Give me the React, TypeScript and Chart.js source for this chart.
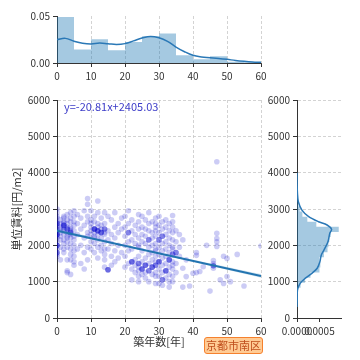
import React, { useEffect, useRef } from 'react';
import { Chart, registerables } from 'chart.js';

Chart.register(...registerables);

const FONT = '"Noto Sans CJK JP", "Noto Sans", sans-serif';
const TEXT = '#333333';
const AXIS = '#333333';
const GRID = '#c8c8c8';
const KDE = '#2a78b6';
const HIST = 'rgba(31,119,180,0.4)';

// ---- tick labels ----
const ageTicks = [0, 10, 20, 30, 40, 50, 60];
const rentTicks = [0, 1000, 2000, 3000, 4000, 5000, 6000];
const ageDensityTicks = [0, 0.05];
const rentDensityTicks = [0, 0.0005];

// ---- top marginal: building age distribution ----
const ageBinEdges = [0, 5, 10, 15, 20, 25, 30, 35, 40, 45, 50, 55, 60];
const ageBinDensity = [0.049, 0.0143, 0.0252, 0.0135, 0.0223, 0.0284, 0.0313, 0.0082, 0.0039, 0.0071, 0.0012, 0.0007];
const ageKdeAge = [0, 2.5, 5, 7.5, 10, 12.5, 15, 17.5, 20, 22.5, 25, 27.5, 30, 32.5, 35, 37.5, 40, 42.5, 45, 47.5, 50, 52.5, 55, 57.5, 60];
const ageKdeDensity = [0.025, 0.0262, 0.0232, 0.021, 0.0202, 0.0212, 0.0205, 0.0197, 0.0206, 0.0235, 0.0265, 0.0283, 0.0268, 0.023, 0.017, 0.012, 0.0082, 0.0065, 0.0057, 0.0049, 0.0039, 0.0027, 0.0018, 0.0011, 0.0007];

// ---- right marginal: unit rent distribution ----
const rentBinEdges = [690, 830, 970, 1110, 1250, 1390, 1530, 1670, 1810, 1950, 2090, 2230, 2370, 2510, 2650, 2790, 2930, 3070, 3210, 3350];
const rentBinDensity = [0.00002, 0.00008, 0.00018, 0.0003, 0.0005, 0.00052, 0.0005, 0.0006, 0.00068, 0.0007, 0.00072, 0.00075, 0.00093, 0.00043, 0.00023, 0.00012, 0.00006, 0.00003, 0.00002];
const rentKdeRent = [300, 500, 770, 955, 1090, 1230, 1370, 1550, 1730, 1870, 2100, 2330, 2440, 2560, 2650, 2790, 2970, 3200, 3430, 3700, 4000];
const rentKdeDensity = [0, 0.000005, 0.00001, 0.00007, 0.00018, 0.00033, 0.00045, 0.00051, 0.00054, 0.0006, 0.00069, 0.00073, 0.00077, 0.00067, 0.00048, 0.00026, 0.00011, 0.00003, 0.00001, 0.000002, 0];

// ---- scatter: [age, rents at that age] ----
const listingGroups: [number, number[]][] = [
  [0, [3000, 2900, 2800, 2750, 2650, 2600, 2550, 2500, 2450, 2400, 2350, 2300, 2250, 2200, 2100, 2000, 1900, 1800, 1750, 1700]],
  [1, [2700, 2600, 2500, 2450, 2350, 2250, 2150, 1950, 1600]],
  [2, [2800, 2750, 2650, 2600, 2550, 2500, 2450, 2400, 2300, 2150, 2050, 1900, 1800]],
  [3, [2850, 2700, 2600, 2500, 2450, 2350, 2250, 2200, 2100, 1950, 1600, 1300, 1250]],
  [4, [2900, 2750, 2650, 2500, 2450, 2400, 2350, 2300, 2200, 2050, 1900, 1750, 1600, 1200]],
  [5, [2950, 2800, 2650, 2550, 2400, 2250, 2150, 2000, 1850, 1700, 1550, 1450]],
  [6, [2850, 2600, 2300, 1900]],
  [7, [2750, 2450, 2000, 1500]],
  [8, [2950, 2550, 2200, 1800, 1350]],
  [9, [3290, 3130, 2800, 2650, 2350, 2250, 1950, 1600]],
  [10, [2950, 2700, 2600, 2500, 2400, 2300, 2100, 1900]],
  [11, [2800, 2650, 2450, 2350, 2250, 2200, 2050, 1800]],
  [12, [3220, 2900, 2600, 2500, 2400, 2300, 2150, 1950, 1650]],
  [13, [2750, 2550, 2450, 2350, 2200, 2000, 1850]],
  [14, [2900, 2600, 2450, 2350, 2300, 2100, 1900, 1750, 1600, 1400]],
  [15, [2800, 2400, 2150, 1900, 1330]],
  [16, [2700, 2300, 2050, 1700, 1450]],
  [17, [2900, 2500, 2200, 1850, 1550]],
  [18, [2600, 2350, 2000, 1650]],
  [19, [2750, 2450, 1800]],
  [20, [2800, 2500, 2250, 2000, 1700, 1400]],
  [21, [2950, 2600, 2350, 2100, 1850, 1500]],
  [22, [2700, 2400, 2150, 1900, 1550, 1350, 1050]],
  [23, [2550, 2300, 2050, 1600, 1450, 1250]],
  [24, [2850, 2650, 2450, 2200, 2000, 1950, 1700, 1500, 1400, 1300, 1150, 1000]],
  [25, [2800, 2500, 2300, 2100, 1850, 1550, 1350, 1200]],
  [26, [2700, 2450, 2250, 2050, 1650, 1450, 1250, 1100]],
  [27, [2900, 2600, 2400, 2150, 1950, 1750, 1500, 1300, 1000]],
  [28, [2650, 2350, 2200, 2000, 1800, 1600, 1400, 1200]],
  [29, [2750, 2600, 2500, 2400, 2250, 2050, 1900, 1850, 1700, 1550, 1450, 1250, 1150, 950]],
  [30, [2800, 2550, 2350, 2150, 1950, 1750, 1550, 1350, 1150, 950]],
  [31, [2650, 2450, 2250, 2050, 1850, 1650, 1450, 1250, 1050, 900]],
  [32, [2700, 2500, 2300, 2100, 1900, 1700, 1500, 1300, 1100]],
  [33, [2600, 2400, 2200, 2000, 1800, 1600, 1400, 1200, 1000, 850]],
  [34, [2820, 2650, 2500, 2350, 2150, 1950, 1900, 1750, 1550, 1450, 1350, 1150, 1000]],
  [35, [2400, 2100, 1800, 1500, 1250]],
  [36, [2300, 1950, 1700]],
  [37, [2150, 1370, 850]],
  [38, [1600, 1140]],
  [39, [880]],
  [40, [1230]],
  [41, [1800, 1725, 1250]],
  [42, [1280]],
  [43, [1410]],
  [44, [2000]],
  [45, [740]],
  [46, [1580, 1500, 1440, 1370]],
  [47, [4300, 2330, 2190, 2100, 1970]],
  [48, [1050]],
  [49, [1700, 950]],
  [50, [1640, 1140]],
  [51, [1000]],
  [53, [1750]],
  [55, [880]],
  [60, [1980]],
];

// listings that appear several times (darker dots): [age, rent, extra copies]
const repeatedListings: [number, number, number][] = [
  [0, 2300, 3], [0, 2000, 3], [0, 1800, 2], [0, 2600, 2], [2, 2550, 3], [3, 2450, 2],
  [4, 2350, 2], [11, 2450, 4], [12, 2400, 3], [13, 2350, 3], [14, 2450, 2], [15, 1330, 3],
  [21, 2350, 2], [22, 1550, 3], [24, 1500, 2], [25, 1350, 3], [26, 1450, 3], [27, 1300, 2],
  [28, 1400, 3], [29, 1450, 2], [30, 1550, 3], [31, 2250, 2], [32, 1300, 3], [33, 1600, 3],
  [34, 1750, 2], [27, 2150, 2], [30, 2150, 2], [35, 1800, 2], [46, 1440, 2], [31, 1050, 2],
];

// ---- regression ----
const regressionLabel = 'y=-20.81x+2405.03';
const regLineAge = [0, 60];
const regLineRent = [2405.03, 1156.43];
const bandAge = [0, 10, 20, 30, 40, 50, 60];
const bandUpper = [2460, 2230, 2006, 1800, 1601, 1405, 1208];
const bandLower = [2350, 2165, 1972, 1762, 1545, 1325, 1105];

const regionLabel = '京都市南区';

const tickFont = { family: FONT, size: 10 };
const fixedTicks = (values: number[]) => (scale: any) => {
  scale.ticks = values.map((v) => ({ value: v }));
};
const tickBase = { font: tickFont, color: TEXT, padding: 3, maxRotation: 0, minRotation: 0, autoSkip: false };
const gridOn = { color: GRID, lineWidth: 0.8, tickLength: 4, tickColor: AXIS, tickWidth: 1, tickBorderDash: [] };
const gridOff = { drawOnChartArea: false, tickLength: 4, tickColor: AXIS, tickWidth: 1 };
const borderDashed = { display: true, color: AXIS, width: 1, dash: [3, 2] };

const regTextPlugin = {
  id: 'regText',
  afterDatasetsDraw(chart: any) {
    const { ctx, chartArea } = chart;
    ctx.save();
    ctx.font = `11px ${FONT}`;
    ctx.fillStyle = '#3c3cc8';
    ctx.textBaseline = 'middle';
    ctx.textAlign = 'left';
    ctx.fillText(regressionLabel, chartArea.left + 7, chartArea.top + 7);
    ctx.restore();
  },
};

export default function App() {
  const topRef = useRef<HTMLCanvasElement>(null);
  const mainRef = useRef<HTMLCanvasElement>(null);
  const sideRef = useRef<HTMLCanvasElement>(null);

  useEffect(() => {
    Chart.defaults.font.family = FONT;
    Chart.defaults.font.size = 10;
    Chart.defaults.color = TEXT;
    const charts: Chart[] = [];

    // top histogram steps
    const ageHist = ageBinDensity.map((d, i) => ({ x: ageBinEdges[i], y: d }));
    ageHist.push({ x: ageBinEdges[ageBinEdges.length - 1], y: ageBinDensity[ageBinDensity.length - 1] });
    const ageKde = ageKdeAge.map((a, i) => ({ x: a, y: ageKdeDensity[i] }));

    charts.push(
      new Chart(topRef.current!, {
        type: 'line',
        data: {
          datasets: [
            { data: ageKde, borderColor: KDE, borderWidth: 1.5, pointRadius: 0, tension: 0.4, fill: false },
            { data: ageHist, stepped: true, borderColor: 'rgba(0,0,0,0)', borderWidth: 0, pointRadius: 0, fill: 'origin', backgroundColor: HIST },
          ],
        } as any,
        options: {
          responsive: false,
          animation: false,
          events: [],
          layout: { padding: { top: 16, right: 9, left: 0, bottom: 0 } },
          plugins: { legend: { display: false }, tooltip: { enabled: false } },
          scales: {
            x: {
              type: 'linear', min: 0, max: 60,
              afterBuildTicks: fixedTicks(ageTicks),
              ticks: { ...tickBase, callback: (v: any) => String(v) },
              grid: gridOn, border: borderDashed,
              afterFit: (s: any) => { s.height = 22; },
            },
            y: {
              type: 'linear', min: 0, max: 0.05,
              afterBuildTicks: fixedTicks(ageDensityTicks),
              ticks: { ...tickBase, callback: (v: any) => Number(v).toFixed(2) },
              grid: gridOff, border: { display: true, color: AXIS, width: 1 },
              afterFit: (s: any) => { s.width = 57; },
            },
          },
        } as any,
      })
    );

    // main scatter
    const points: { x: number; y: number }[] = [];
    listingGroups.forEach(([age, rents]) => rents.forEach((r) => points.push({ x: age, y: r })));
    repeatedListings.forEach(([age, rent, n]) => {
      for (let k = 0; k < n; k++) points.push({ x: age, y: rent });
    });
    const regLine = regLineAge.map((a, i) => ({ x: a, y: regLineRent[i] }));
    const upper = bandAge.map((a, i) => ({ x: a, y: bandUpper[i] }));
    const lower = bandAge.map((a, i) => ({ x: a, y: bandLower[i] }));

    charts.push(
      new Chart(mainRef.current!, {
        type: 'scatter',
        data: {
          datasets: [
            { type: 'line', data: regLine, borderColor: '#2274b0', borderWidth: 2, pointRadius: 0, fill: false },
            { type: 'line', data: upper, borderColor: 'rgba(0,0,0,0)', borderWidth: 0, pointRadius: 0, tension: 0.3, fill: '+1', backgroundColor: 'rgba(31,119,180,0.2)' },
            { type: 'line', data: lower, borderColor: 'rgba(0,0,0,0)', borderWidth: 0, pointRadius: 0, tension: 0.3, fill: false },
            { type: 'scatter', data: points, backgroundColor: 'rgba(0,0,205,0.2)', borderWidth: 0, pointRadius: 2.8 },
          ],
        } as any,
        options: {
          responsive: false,
          animation: false,
          events: [],
          layout: { padding: { top: 15, right: 9, left: 0, bottom: 0 } },
          plugins: { legend: { display: false }, tooltip: { enabled: false } },
          scales: {
            x: {
              type: 'linear', min: 0, max: 60,
              afterBuildTicks: fixedTicks(ageTicks),
              ticks: { ...tickBase, callback: (v: any) => String(v) },
              grid: gridOn, border: borderDashed,
              title: { display: true, text: '築年数[年]', font: { family: FONT, size: 11 }, color: TEXT, padding: { top: 0, bottom: 12 } },
              afterFit: (s: any) => { s.height = 42; },
            },
            y: {
              type: 'linear', min: 0, max: 6000,
              afterBuildTicks: fixedTicks(rentTicks),
              ticks: { ...tickBase, callback: (v: any) => String(v) },
              grid: gridOn, border: borderDashed,
              title: { display: true, text: '単位賃料[円/m2]', font: { family: FONT, size: 11 }, color: TEXT, padding: { top: 10, bottom: 0 } },
              afterFit: (s: any) => { s.width = 57; },
            },
          },
        } as any,
        plugins: [regTextPlugin],
      })
    );

    // right marginal
    const rentHist = rentBinDensity.map((d, i) => ({ x: d, y: rentBinEdges[i] }));
    rentHist.push({ x: rentBinDensity[rentBinDensity.length - 1], y: rentBinEdges[rentBinEdges.length - 1] });
    const rentKde = rentKdeRent.map((r, i) => ({ x: rentKdeDensity[i], y: r }));

    charts.push(
      new Chart(sideRef.current!, {
        type: 'line',
        data: {
          datasets: [
            { data: rentKde, borderColor: KDE, borderWidth: 1.5, pointRadius: 0, tension: 0.3, fill: false },
            { data: rentHist, stepped: 'after', borderColor: 'rgba(0,0,0,0)', borderWidth: 0, pointRadius: 0, fill: 'origin', backgroundColor: HIST },
          ],
        } as any,
        options: {
          indexAxis: 'y',
          responsive: false,
          animation: false,
          events: [],
          layout: { padding: { top: 15, right: 19, left: 0, bottom: 0 } },
          plugins: { legend: { display: false }, tooltip: { enabled: false } },
          scales: {
            x: {
              type: 'linear', position: 'bottom', min: 0, max: 0.00098,
              afterBuildTicks: fixedTicks(rentDensityTicks),
              ticks: { ...tickBase, callback: (v: any) => Number(v).toFixed(4) },
              grid: gridOff, border: { display: true, color: AXIS, width: 1 },
              afterFit: (s: any) => { s.height = 42; },
            },
            y: {
              type: 'linear', position: 'left', min: 0, max: 6000,
              afterBuildTicks: fixedTicks(rentTicks),
              ticks: { ...tickBase, callback: (v: any) => String(v) },
              grid: gridOn, border: borderDashed,
              afterFit: (s: any) => { s.width = 35; },
            },
          },
        } as any,
      })
    );

    return () => charts.forEach((c) => c.destroy());
  }, []);

  return (
    <div style={{ position: 'absolute', left: 0, top: 0, width: 360, height: 360, background: '#ffffff', overflow: 'hidden' }}>
      <canvas ref={topRef} width={270} height={85} style={{ position: 'absolute', left: 0, top: 0, width: 270, height: 85 }} />
      <canvas ref={mainRef} width={270} height={275} style={{ position: 'absolute', left: 0, top: 85, width: 270, height: 275 }} />
      <canvas ref={sideRef} width={98} height={275} style={{ position: 'absolute', left: 262, top: 85, width: 98, height: 275 }} />
      <div
        style={{
          position: 'absolute', left: 204, top: 337, width: 59, height: 17, boxSizing: 'border-box',
          border: '1.5px solid #f5812e', background: '#ffcb94', borderRadius: 3,
          color: '#c04e1c', fontFamily: FONT, fontSize: 11, lineHeight: '14px', textAlign: 'center',
          whiteSpace: 'nowrap',
        }}
      >
        {regionLabel}
      </div>
    </div>
  );
}
